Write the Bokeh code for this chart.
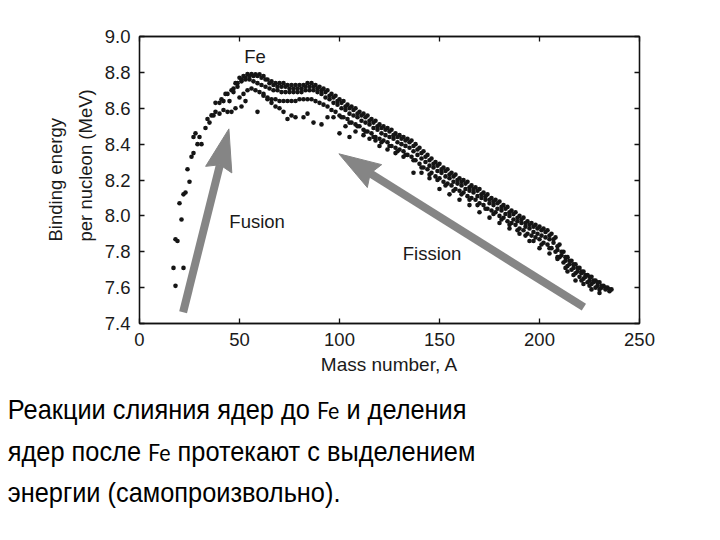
import math
from bokeh.plotting import figure
from bokeh.models import LinearAxis, Label, Range1d, FixedTicker, NumeralTickFormatter, Title, Div
from bokeh.layouts import column
from bokeh.embed import file_html
from bokeh.resources import INLINE

# ---------------- data ----------------
x_ticks = [0, 50, 100, 150, 200, 250]
y_ticks = [7.4, 7.6, 7.8, 8.0, 8.2, 8.4, 8.6, 8.8, 9.0]

# light nuclei (individual points)
light_A = [17, 18, 18, 19, 22, 21, 20, 22, 23, 25, 24, 26, 27, 27, 28, 29, 30, 31,
           33, 34, 35, 36, 37, 38, 40, 41, 42, 43]
light_BE = [7.71, 7.61, 7.87, 7.86, 7.71, 7.98, 8.07, 8.12, 8.13, 8.19, 8.26, 8.33,
            8.35, 8.44, 8.46, 8.40, 8.44, 8.40, 8.49, 8.54, 8.52, 8.56, 8.56, 8.63,
            8.63, 8.65, 8.64, 8.68]

# upper band (even A)
top_A = [44, 46, 48, 50, 52, 54, 56, 58, 60, 62, 64, 66, 68, 70, 72, 74, 76, 78, 80, 82,
         84, 86, 88, 90, 92, 94, 96, 98, 100, 102, 104, 106, 108, 110, 112, 114, 116, 118,
         120, 122, 124, 126, 128, 130, 132, 134, 136, 138, 140, 142, 144, 146, 148, 150,
         152, 154, 156, 158, 160, 162, 164, 166, 168, 170, 172, 174, 176, 178, 180, 182,
         184, 186, 188, 190, 192, 194, 196, 198, 200, 202, 204, 206, 208, 210, 212, 214,
         216, 218, 220, 222, 224, 226, 228, 230, 232, 234, 236]
top_BE = [8.68, 8.70, 8.74, 8.77, 8.78, 8.79, 8.79, 8.79, 8.79, 8.78, 8.76, 8.75, 8.74,
          8.74, 8.74, 8.73, 8.73, 8.73, 8.73, 8.73, 8.74, 8.74, 8.73, 8.72, 8.71, 8.70,
          8.68, 8.67, 8.65, 8.64, 8.62, 8.61, 8.60, 8.58, 8.57, 8.56, 8.54, 8.53, 8.51,
          8.50, 8.49, 8.48, 8.46, 8.45, 8.44, 8.43, 8.42, 8.40, 8.38, 8.36, 8.34, 8.32,
          8.30, 8.29, 8.27, 8.26, 8.24, 8.23, 8.21, 8.20, 8.19, 8.17, 8.16, 8.15, 8.13,
          8.12, 8.10, 8.09, 8.08, 8.06, 8.05, 8.03, 8.02, 8.00, 7.99, 7.97, 7.96, 7.95,
          7.94, 7.93, 7.92, 7.90, 7.88, 7.84, 7.80, 7.77, 7.75, 7.73, 7.71, 7.69, 7.67,
          7.66, 7.64, 7.63, 7.61, 7.60, 7.59]

# second band (odd A), just under the upper edge
upper2_A = [47, 49, 51, 53, 55, 57, 59, 61, 63, 65, 67, 69, 71, 73, 75, 77, 79, 81, 83,
            85, 87, 89, 91, 93, 95, 97, 99, 101, 103, 105, 107, 109, 111, 113, 115, 117,
            119, 121, 123, 125, 127, 129, 131, 133, 135, 137, 139, 141, 143, 145, 147,
            149, 151, 153, 155, 157, 159, 161, 163, 165, 167, 169, 171, 173, 175, 177,
            179, 181, 183, 185, 187, 189, 191, 193, 195, 197, 199, 201, 203, 205, 207,
            209, 211, 213, 215, 217, 219, 221, 223, 225, 227, 229, 231, 233, 235]
upper2_BE = [8.71, 8.74, 8.76, 8.77, 8.78, 8.78, 8.78, 8.77, 8.76, 8.74, 8.73, 8.72,
             8.72, 8.72, 8.71, 8.71, 8.71, 8.71, 8.72, 8.72, 8.72, 8.71, 8.70, 8.69,
             8.67, 8.66, 8.64, 8.63, 8.61, 8.60, 8.59, 8.57, 8.56, 8.55, 8.53, 8.52,
             8.50, 8.49, 8.48, 8.47, 8.45, 8.44, 8.43, 8.42, 8.41, 8.39, 8.37, 8.35,
             8.33, 8.31, 8.29, 8.28, 8.26, 8.25, 8.23, 8.22, 8.20, 8.19, 8.18, 8.16,
             8.15, 8.14, 8.12, 8.11, 8.09, 8.08, 8.07, 8.05, 8.04, 8.02, 8.01, 7.99,
             7.98, 7.96, 7.95, 7.94, 7.93, 7.92, 7.91, 7.89, 7.87, 7.83, 7.80, 7.77,
             7.75, 7.73, 7.71, 7.69, 7.67, 7.66, 7.64, 7.63, 7.61, 7.60, 7.59]

# middle band (odd A)
mid_A = [45, 47, 49, 51, 53, 55, 57, 59, 61, 63, 65, 67, 69, 71, 73, 75, 77, 79, 81, 83,
         85, 87, 89, 91, 93, 95, 97, 99, 101, 103, 105, 107, 109, 111, 113, 115, 117, 119,
         121, 123, 125, 127, 129, 131, 133, 135, 137, 139, 141, 143, 145, 147, 149, 151,
         153, 155, 157, 159, 161, 163, 165, 167, 169, 171, 173, 175, 177, 179, 181, 183,
         185, 187, 189, 191, 193, 195, 197, 199, 201, 203, 205, 207, 209, 211, 213, 215,
         217, 219, 221, 223, 225, 227, 229, 231, 233, 235]
mid_BE = [8.64, 8.69, 8.72, 8.75, 8.76, 8.76, 8.75, 8.74, 8.73, 8.72, 8.71, 8.70, 8.70,
          8.69, 8.69, 8.69, 8.69, 8.69, 8.69, 8.70, 8.70, 8.70, 8.69, 8.68, 8.66, 8.65,
          8.63, 8.62, 8.60, 8.59, 8.57, 8.56, 8.55, 8.53, 8.52, 8.51, 8.49, 8.48, 8.46,
          8.45, 8.44, 8.43, 8.41, 8.40, 8.39, 8.38, 8.36, 8.34, 8.32, 8.30, 8.28, 8.27,
          8.25, 8.24, 8.22, 8.21, 8.19, 8.18, 8.17, 8.15, 8.14, 8.13, 8.11, 8.10, 8.09,
          8.07, 8.06, 8.04, 8.03, 8.01, 8.00, 7.98, 7.97, 7.96, 7.94, 7.93, 7.91, 7.90,
          7.89, 7.88, 7.87, 7.85, 7.81, 7.78, 7.75, 7.73, 7.71, 7.69, 7.68, 7.66, 7.64,
          7.63, 7.61, 7.60, 7.59, 7.58]

# lower band (even A)
low_A = [50, 52, 54, 56, 58, 60, 62, 64, 66, 68, 70, 72, 74, 76, 78, 80, 82, 84, 86, 88,
         90, 92, 94, 96, 98, 100, 102, 104, 106, 108, 110, 112, 114, 116, 118, 120, 122,
         124, 126, 128, 130, 132, 134, 136, 138, 140, 142, 144, 146, 148, 150, 152, 154,
         156, 158, 160, 162, 164, 166, 168, 170, 172, 174, 176, 178, 180, 182, 184, 186,
         188, 190, 192, 194, 196, 198, 200, 202, 204, 206, 208, 210, 212, 214, 216, 218,
         220, 222, 224, 226, 228, 230]
low_BE = [8.66, 8.68, 8.70, 8.71, 8.70, 8.69, 8.68, 8.66, 8.65, 8.65, 8.64, 8.64, 8.64,
          8.64, 8.64, 8.65, 8.65, 8.65, 8.65, 8.64, 8.63, 8.62, 8.61, 8.59, 8.58, 8.56,
          8.55, 8.54, 8.52, 8.51, 8.50, 8.48, 8.47, 8.46, 8.44, 8.43, 8.42, 8.41, 8.39,
          8.38, 8.37, 8.36, 8.34, 8.33, 8.31, 8.29, 8.27, 8.26, 8.24, 8.22, 8.21, 8.19,
          8.18, 8.17, 8.15, 8.14, 8.13, 8.11, 8.10, 8.09, 8.07, 8.06, 8.04, 8.03, 8.02,
          8.00, 7.99, 7.97, 7.96, 7.95, 7.93, 7.92, 7.90, 7.89, 7.88, 7.87, 7.85, 7.84,
          7.82, 7.80, 7.77, 7.74, 7.72, 7.70, 7.68, 7.66, 7.65, 7.63, 7.62, 7.60, 7.59]

# sparse band under the lower band (odd A)
low2_A = [101, 105, 109, 113, 117, 121, 125, 129, 133, 137, 141, 145, 149, 153, 157, 161,
          165, 169, 173, 177, 181, 185, 189, 193, 197, 201, 205, 209, 213, 217, 221, 225]
low2_BE = [8.55, 8.52, 8.50, 8.47, 8.44, 8.41, 8.39, 8.36, 8.34, 8.31, 8.27, 8.23, 8.20,
           8.17, 8.14, 8.12, 8.09, 8.06, 8.04, 8.01, 7.98, 7.95, 7.92, 7.89, 7.86, 7.84,
           7.82, 7.77, 7.71, 7.67, 7.64, 7.61]

# scattered low points (odd-odd nuclei etc.)
odd_A = [38, 40, 42, 44, 46, 48, 51, 53, 59, 62, 64, 66, 68, 70, 72, 74, 76, 78, 82, 84,
         87, 91, 94, 97, 100, 103, 105, 108, 112, 115, 118, 120, 124, 128, 132, 137, 141,
         145, 150, 155, 160, 165, 170, 175, 180, 185, 190, 195, 200, 205, 209, 214, 218,
         222, 226, 230]
odd_BE = [8.58, 8.57, 8.59, 8.58, 8.58, 8.60, 8.61, 8.64, 8.58, 8.67, 8.65, 8.63, 8.61,
          8.60, 8.58, 8.54, 8.56, 8.55, 8.55, 8.57, 8.52, 8.51, 8.55, 8.55, 8.46, 8.50,
          8.44, 8.47, 8.45, 8.43, 8.42, 8.39, 8.37, 8.35, 8.33, 8.24, 8.24, 8.21, 8.15,
          8.12, 8.09, 8.06, 8.02, 7.99, 7.96, 7.93, 7.90, 7.86, 7.82, 7.79, 7.76, 7.69,
          7.64, 7.62, 7.59, 7.57]

# arrows: (tail A, tail BE, tip A, tip BE)
fusion_arrow = (21.8, 7.463, 44.7, 8.485)
fission_arrow = (222.2, 7.491, 99.7, 8.346)

caption_lines = [["Реакции слияния ядер до ", "Fe", " и деления"],
                 ["ядер после ", "Fe", " протекают с выделением"],
                 ["энергии (самопроизвольно).", "", ""]]

# ---------------- figure ----------------
X0, X1, Y0, Y1 = 0, 250, 7.4, 9.0
FRAME_W, FRAME_H = 500, 287
FONT = "Liberation Sans"
TXT = "#1a1a1a"

p = figure(width=720, height=385, output_backend="svg", toolbar_location=None,
           x_range=Range1d(X0, X1), y_range=Range1d(Y0, Y1),
           min_border_left=139, min_border_right=81, min_border_top=36,
           min_border_bottom=62, background_fill_color="white",
           border_fill_color="white")
p.grid.visible = False
p.outline_line_color = "#111111"
p.outline_line_width = 1.3

def style_axis(ax, ticks, fmt, show_labels):
    ax.ticker = FixedTicker(ticks=ticks)
    ax.formatter = NumeralTickFormatter(format=fmt)
    ax.major_tick_in = 5
    ax.major_tick_out = 0
    ax.minor_tick_line_color = None
    ax.major_tick_line_width = 1.3
    ax.axis_line_width = 1.3
    ax.axis_line_color = "#111111"
    ax.major_tick_line_color = "#111111"
    ax.major_label_text_font = FONT
    ax.major_label_text_font_size = "18.5px"
    ax.major_label_text_color = TXT if show_labels else None
    ax.major_label_standoff = 9

bottom_ax = p.xaxis[0]
left_ax = p.yaxis[0]
style_axis(bottom_ax, x_ticks, "0", True)
style_axis(left_ax, y_ticks, "0.0", True)
top_ax = LinearAxis()
right_ax = LinearAxis()
style_axis(top_ax, x_ticks, "0", False)
style_axis(right_ax, y_ticks, "0.0", False)
p.add_layout(top_ax, "above")
p.add_layout(right_ax, "right")

bottom_ax.axis_label = "Mass number, A"
bottom_ax.axis_label_text_font = FONT
bottom_ax.axis_label_text_font_size = "19px"
bottom_ax.axis_label_text_font_style = "normal"
bottom_ax.axis_label_text_color = TXT
bottom_ax.axis_label_standoff = 5

for t, so in [("per nucleon (MeV)", 11), ("Binding energy", 3)]:
    p.add_layout(Title(text=t, align="left", offset=82, text_font=FONT,
                       text_font_size="18.5px", text_font_style="normal",
                       text_color=TXT, standoff=so), "left")

# ---------------- arrows ----------------
SX = FRAME_W / (X1 - X0)
SY = FRAME_H / (Y1 - Y0)
ARROW_COLOR = "#858585"

def draw_arrow(a):
    xa_, ya_, xb, yb = a
    dx, dy = (xb - xa_) * SX, (yb - ya_) * SY
    n = math.hypot(dx, dy)
    ux, uy = dx / n, dy / n
    px, py = -uy, ux
    L, w = 42, 13.5
    bx, by = xb - ux * L / SX, yb - uy * L / SY
    nx, ny = xb - ux * L * 0.88 / SX, yb - uy * L * 0.88 / SY
    hx = [xb, bx + px * w / SX, nx, bx - px * w / SX]
    hy = [yb, by + py * w / SY, ny, by - py * w / SY]
    p.line([xa_, nx], [ya_, ny], line_width=8, line_color=ARROW_COLOR)
    p.patch(hx, hy, fill_color=ARROW_COLOR, line_color=ARROW_COLOR, line_width=1)

draw_arrow(fusion_arrow)
draw_arrow(fission_arrow)

# ---------------- points ----------------
DOT = "#151515"
for xs, ys in [(light_A, light_BE), (top_A, top_BE), (upper2_A, upper2_BE),
               (mid_A, mid_BE), (low_A, low_BE), (low2_A, low2_BE), (odd_A, odd_BE)]:
    p.scatter(xs, ys, size=4.6, color=DOT, line_width=0)

# ---------------- labels inside the frame ----------------
def lab(x, y, t):
    p.add_layout(Label(x=x, y=y, text=t, text_font=FONT, text_font_size="18.5px",
                       text_align="center", text_baseline="alphabetic",
                       text_color=TXT))

lab(57.8, 8.888, "Fe")
lab(58.8, 7.969, "Fusion")
lab(146.3, 7.790, "Fission")

# ---------------- caption ----------------
MAIN = "font-family:'Liberation Sans',sans-serif;"
FE = "font-family:Lato,'Open Sans',sans-serif;font-size:24px;"
html_lines = []
for a, fe, b in caption_lines:
    s = a
    if fe:
        s += f"<span style=\"{FE}\">{fe}</span>"
    s += b
    html_lines.append(s)
caption = Div(text=("<div style=\"" + MAIN + "font-size:28.5px;line-height:41.5px;"
                    "color:#000;padding-top:4px;white-space:nowrap;"
                    "transform:scaleX(0.89);transform-origin:7px 0;margin-left:7px;\">"
                    + "<br>".join(html_lines) + "</div>"),
              width=720, height=155, margin=(0, 0, 0, 0))

layout = column(p, caption, spacing=0, margin=(0, 0, 0, 0))
open("out.html", "w").write(file_html(layout, INLINE))
